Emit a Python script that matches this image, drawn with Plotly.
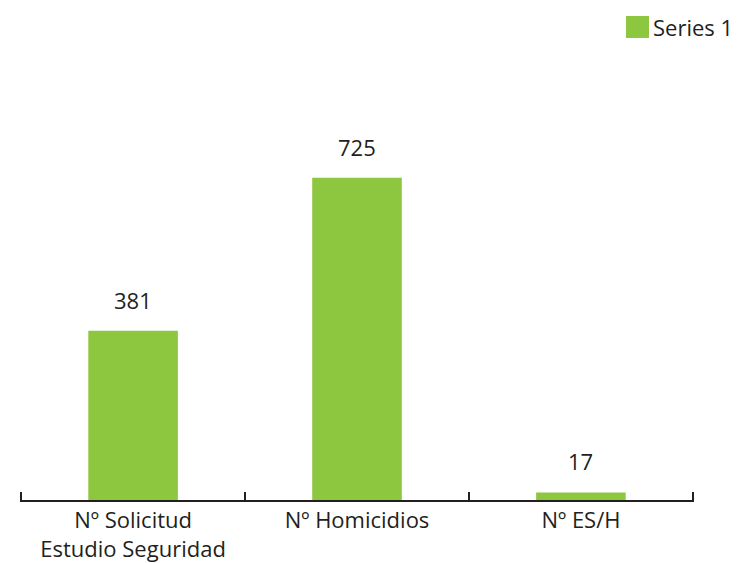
import plotly.graph_objects as go

# Chart data
categories = ["Nº Solicitud<br>Estudio Seguridad", "Nº Homicidios", "Nº ES/H"]
values = [381, 725, 17]
series_name = "Series 1"

BAR_COLOR = "#8DC63F"
TEXT_COLOR = "#231F20"
FONT = "Open Sans"

fig = go.Figure()
fig.add_trace(go.Bar(
    x=categories,
    y=values,
    name=series_name,
    marker=dict(color=BAR_COLOR, line=dict(width=0)),
    showlegend=False,
    cliponaxis=False,
))

# value labels above each bar
for cat, val in zip(categories, values):
    fig.add_annotation(
        x=cat, y=val, xref="x", yref="y",
        text=str(val), showarrow=False,
        yanchor="bottom", yshift=14,
        font=dict(family=FONT, size=22, color=TEXT_COLOR),
    )

# legend swatch and label
fig.add_shape(
    type="rect", xref="paper", yref="paper",
    x0=0.8991, x1=0.9332, y0=1.155, y1=1.21,
    fillcolor=BAR_COLOR, line=dict(width=0),
)
fig.add_annotation(
    x=0.9362, y=1.1825, xref="paper", yref="paper",
    text=series_name, showarrow=False,
    xanchor="left", yanchor="middle",
    font=dict(family=FONT, size=22, color=TEXT_COLOR),
)

fig.update_layout(
    width=737, height=563,
    margin=dict(l=20, r=43, t=100, b=63),
    paper_bgcolor="white", plot_bgcolor="white",
    bargap=0.6,
    font=dict(family=FONT, size=22, color=TEXT_COLOR),
    xaxis=dict(
        range=[-0.505, 2.505],
        showline=True, linecolor="#231F20", linewidth=1.5,
        ticks="inside", tickson="boundaries", ticklen=8, tickwidth=1.5,
        tickcolor="#231F20", showgrid=False, zeroline=False,
        tickfont=dict(family=FONT, size=22, color=TEXT_COLOR),
        automargin=False, fixedrange=True,
    ),
    yaxis=dict(
        range=[0, 900], visible=False, showgrid=False, zeroline=False,
        fixedrange=True,
    ),
)

fig.write_html("out.html")
